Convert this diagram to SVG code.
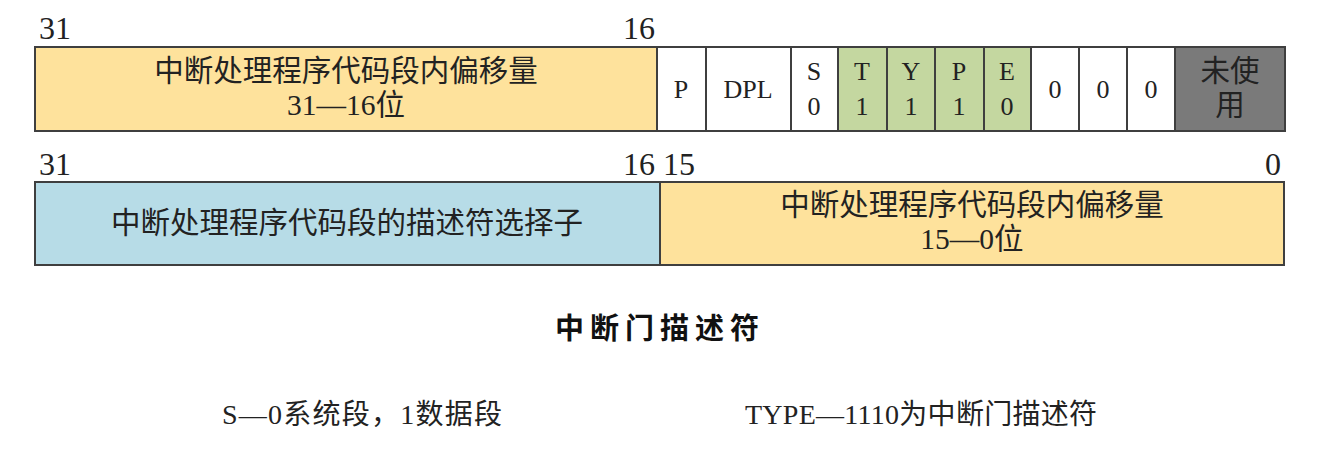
<svg xmlns="http://www.w3.org/2000/svg" width="1329" height="470" viewBox="0 0 1329 470">
<style>
.cell{stroke:#3f3f3f;stroke-width:2}
.y{fill:#FEE29C}.b{fill:#B7DCE7}.g{fill:#C4D7A0}.w{fill:#FFFFFF}.k{fill:#7A7A7A}
.num{font-family:"Liberation Serif",serif;font-size:32px;fill:#222}
.bit{font-family:"Liberation Serif",serif;font-size:26px;fill:#222;text-anchor:middle}
.cn{font-family:"Liberation Serif","Noto Sans CJK SC",sans-serif;font-size:29.5px;fill:#222;text-anchor:middle}
.title{font-family:"Noto Sans CJK SC",sans-serif;font-size:29px;font-weight:bold;fill:#111;text-anchor:middle;letter-spacing:6px}
.note{font-family:"Liberation Serif","Noto Sans CJK SC",sans-serif;font-size:28px;fill:#222}
</style>
<rect width="1329" height="470" fill="#FFFFFF"/>
<g id="row1-labels">
<text class="num" x="39" y="39">31</text>
<text class="num" x="655" y="39" text-anchor="end">16</text>
</g>
<g id="row1-offset">
<rect class="cell y" x="35" y="47" width="622" height="84"/>
<text class="cn" x="346" y="81">中断处理程序代码段内偏移量</text>
<text class="cn" x="346" y="115">31—16位</text>
</g>
<g id="row1-P"><rect class="cell w" x="657" y="47" width="49" height="84"/><text class="bit" x="681" y="98">P</text></g>
<g id="row1-DPL"><rect class="cell w" x="706" y="47" width="85" height="84"/><text class="bit" x="748" y="98">DPL</text></g>
<g id="row1-S"><rect class="cell w" x="791" y="47" width="47" height="84"/><text class="bit" x="814" y="80">S</text><text class="bit" x="814" y="115">0</text></g>
<g id="row1-T"><rect class="cell g" x="838" y="47" width="49" height="84"/><text class="bit" x="862" y="80">T</text><text class="bit" x="862" y="115">1</text></g>
<g id="row1-Y"><rect class="cell g" x="887" y="47" width="48" height="84"/><text class="bit" x="911" y="80">Y</text><text class="bit" x="911" y="115">1</text></g>
<g id="row1-P2"><rect class="cell g" x="935" y="47" width="49" height="84"/><text class="bit" x="959" y="80">P</text><text class="bit" x="959" y="115">1</text></g>
<g id="row1-E"><rect class="cell g" x="984" y="47" width="47" height="84"/><text class="bit" x="1007" y="80">E</text><text class="bit" x="1007" y="115">0</text></g>
<g id="row1-z1"><rect class="cell w" x="1031" y="47" width="48" height="84"/><text class="bit" x="1055" y="98">0</text></g>
<g id="row1-z2"><rect class="cell w" x="1079" y="47" width="48" height="84"/><text class="bit" x="1103" y="98">0</text></g>
<g id="row1-z3"><rect class="cell w" x="1127" y="47" width="48" height="84"/><text class="bit" x="1151" y="98">0</text></g>
<g id="row1-unused"><rect class="cell k" x="1175" y="47" width="110" height="84"/><text class="cn" x="1230" y="81">未使</text><text class="cn" x="1230" y="115">用</text></g>
<g id="row2-labels">
<text class="num" x="39" y="175">31</text>
<text class="num" x="655" y="175" text-anchor="end">16</text>
<text class="num" x="663" y="175">15</text>
<text class="num" x="1281" y="175" text-anchor="end">0</text>
</g>
<g id="row2-selector">
<rect class="cell b" x="35" y="182" width="625" height="83"/>
<text class="cn" x="347" y="233">中断处理程序代码段的描述符选择子</text>
</g>
<g id="row2-offset">
<rect class="cell y" x="660" y="182" width="624" height="83"/>
<text class="cn" x="972" y="215">中断处理程序代码段内偏移量</text>
<text class="cn" x="972" y="249">15—0位</text>
</g>
<g id="title"><text class="title" x="660" y="339">中断门描述符</text></g>
<g id="notes">
<text class="note" x="222" y="424" textLength="280" lengthAdjust="spacing">S—0系统段，1数据段</text>
<text class="note" x="745" y="424" textLength="352" lengthAdjust="spacing">TYPE—1110为中断门描述符</text>
</g>
<g id="connectors"></g>
</svg>
